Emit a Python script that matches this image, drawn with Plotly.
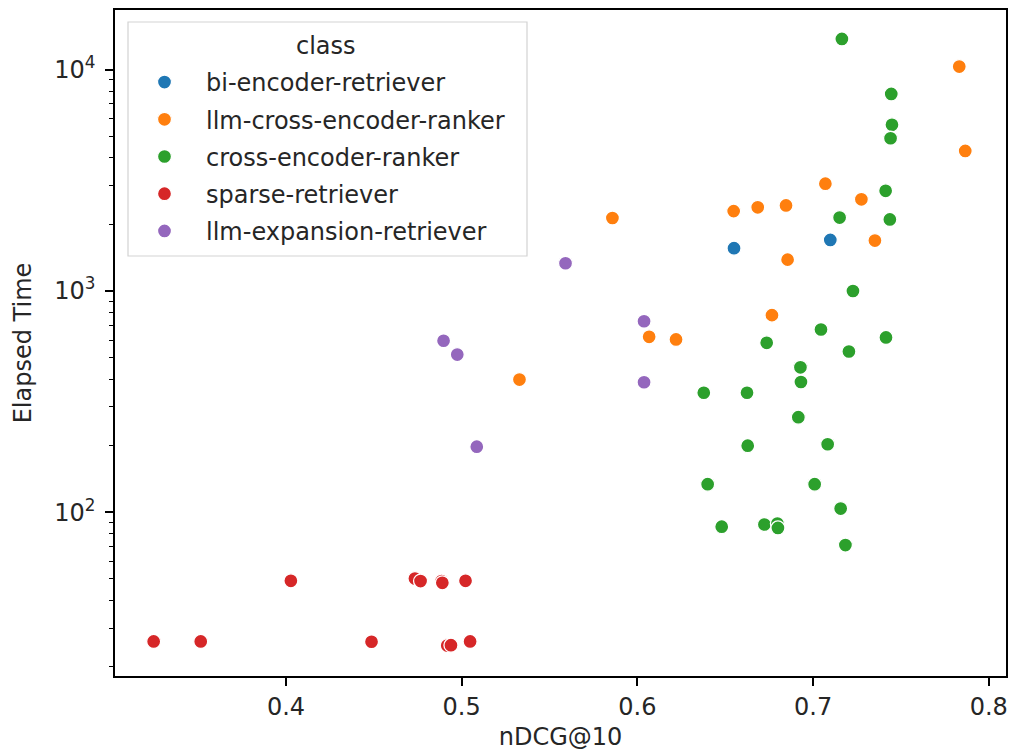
import plotly.graph_objects as go

classes = ["bi-encoder-retriever", "llm-cross-encoder-ranker", "cross-encoder-ranker",
           "sparse-retriever", "llm-expansion-retriever"]
colors = ["#1f77b4", "#ff7f0e", "#2ca02c", "#d62728", "#9467bd"]

bi_x = [0.655, 0.7098]
bi_y = [1562, 1702]

llm_ce_x = [0.7832, 0.7866, 0.7070, 0.7275, 0.5858, 0.6548, 0.6685, 0.6846, 0.7352, 0.6855,
            0.6766, 0.6067, 0.6220, 0.5329]
llm_ce_y = [10330, 4296, 3054, 2595, 2137, 2296, 2388, 2437, 1690, 1386,
            778, 621, 604, 398]

ce_x = [0.7164, 0.7445, 0.7449, 0.7441, 0.7413, 0.7151, 0.7437, 0.7227, 0.7045, 0.7415,
        0.6736, 0.7204, 0.6928, 0.6931, 0.6378, 0.6624, 0.6916, 0.6628, 0.7083, 0.6400,
        0.7009, 0.7157, 0.6480, 0.6723, 0.6797, 0.6800, 0.7184]
ce_y = [13780, 7770, 5637, 4900, 2837, 2148, 2105, 1000, 670, 617,
        583, 533, 452, 388, 347, 347, 269, 200, 203, 134,
        134, 104, 86.1, 88.1, 89.0, 85.0, 71.1]

sparse_x = [0.4028, 0.4734, 0.4766, 0.4886, 0.4890, 0.5022, 0.3247, 0.3515, 0.4487, 0.4918,
            0.4939, 0.5048]
sparse_y = [49.0, 50.2, 48.9, 48.9, 48.0, 49.0, 26.1, 26.1, 26.0, 25.0,
            25.1, 26.1]

llm_exp_x = [0.5591, 0.6038, 0.6038, 0.4897, 0.4975, 0.5086]
llm_exp_y = [1335, 730, 387, 596, 516, 198]

series = [(bi_x, bi_y), (llm_ce_x, llm_ce_y), (ce_x, ce_y), (sparse_x, sparse_y), (llm_exp_x, llm_exp_y)]

x_ticks = [0.4, 0.5, 0.6, 0.7, 0.8]
y_ticks = [100, 1000, 10000]
y_ticktext = ["10<sup>2</sup>", "10<sup>3</sup>", "10<sup>4</sup>"]
y_minor = [m * 10 ** e for e in range(1, 5) for m in range(2, 10)]
legend_title = "class"

FONT = "DejaVu Sans"
FS = 24
# plot-area geometry in pixels (for placing legend frame)
L, R, T, B = 115, 1006, 10, 676
W, H = R - L, B - T


def px_x(p):
    return (p - L) / W


def px_y(p):
    return 1 - (p - T) / H


fig = go.Figure()
for i, (name, col, (xs, ys)) in enumerate(zip(classes, colors, series)):
    fig.add_trace(go.Scatter(
        x=xs, y=ys, mode="markers", name=name, legendgroup=name,
        marker=dict(color=col, size=14, line=dict(color="white", width=1.3)),
    ))

# legend frame
fig.add_shape(type="rect", xref="paper", yref="paper",
              x0=px_x(128), x1=px_x(527), y0=px_y(256), y1=px_y(22),
              line=dict(color="#d3d3d3", width=1.2), fillcolor="rgba(255,255,255,0.8)",
              layer="above")
fig.add_annotation(text=legend_title, xref="paper", yref="paper",
                   x=px_x(326), y=px_y(46), xanchor="center", yanchor="middle",
                   showarrow=False, font=dict(size=FS, color="#262626"))

fig.update_layout(
    width=1012, height=751,
    margin=dict(l=L, r=1012 - R, t=T, b=751 - B, autoexpand=False),
    paper_bgcolor="white", plot_bgcolor="white",
    font=dict(family=FONT, size=FS, color="#262626"),
    legend=dict(
        x=px_x(123), y=px_y(60), xanchor="left", yanchor="top",
        bgcolor="rgba(0,0,0,0)", borderwidth=0,
        font=dict(size=FS), tracegroupgap=3, itemwidth=73,
    ),
    showlegend=True,
)
fig.update_xaxes(
    range=[0.3027, 0.8098], tickvals=x_ticks, ticktext=[str(v) for v in x_ticks],
    showgrid=False, zeroline=False, showline=True, linecolor="black", linewidth=1.5, mirror=True,
    ticks="outside", ticklen=8, tickwidth=1.5, tickcolor="black", automargin=False,
    title=dict(text="nDCG@10", font=dict(size=FS), standoff=25),
)
fig.update_yaxes(
    type="log", range=[1.2603, 4.2698], tickvals=y_ticks, ticktext=y_ticktext,
    showgrid=False, zeroline=False, showline=True, linecolor="black", linewidth=1.5, mirror=True,
    ticks="outside", ticklen=8, tickwidth=1.5, tickcolor="black", automargin=False,
    ticklabelstandoff=5,
    minor=dict(tickvals=y_minor, ticks="outside", ticklen=4.5, tickwidth=1.2, tickcolor="black", showgrid=False),
    title=dict(text="Elapsed Time", font=dict(size=FS), standoff=16),
)

fig.write_html("out.html")
